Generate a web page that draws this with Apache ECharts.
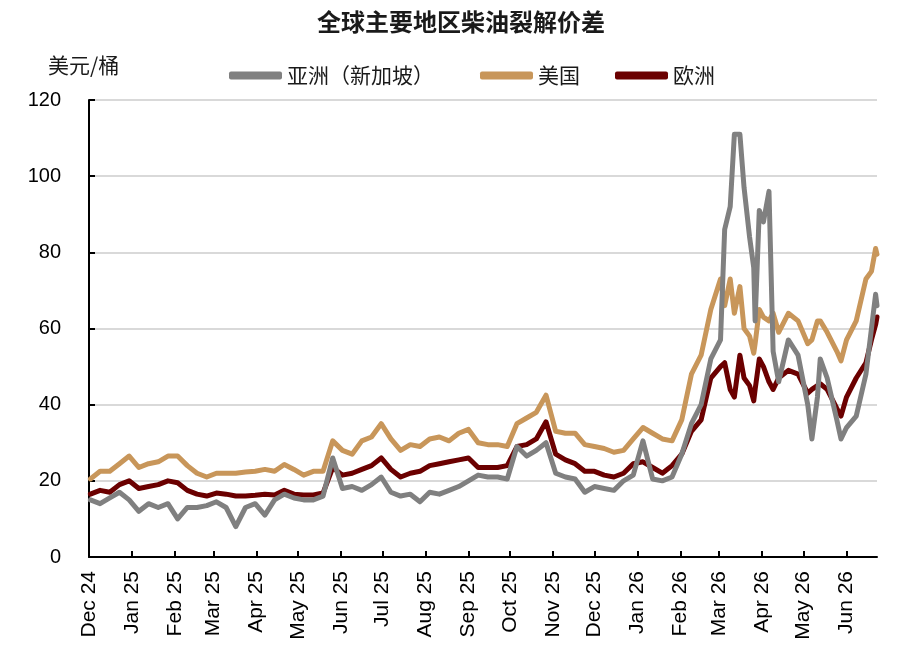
<!DOCTYPE html>
<html>
<head>
<meta charset="utf-8">
<script src="https://cdn.jsdelivr.net/npm/echarts@6/dist/echarts.min.js"></script>
<style>
  html, body { margin: 0; padding: 0; background: #fff; }
  #chart { width: 900px; height: 658px; }
</style>
</head>
<body>
<div id="chart"></div>
<script>
// 日期与三条价差序列（美元/桶）
const dates = [
  "2024-12-02","2024-12-09","2024-12-16","2024-12-23","2024-12-30",
  "2025-01-06","2025-01-13","2025-01-20","2025-01-27",
  "2025-02-03","2025-02-10","2025-02-17","2025-02-24",
  "2025-03-03","2025-03-10","2025-03-17","2025-03-24","2025-03-31",
  "2025-04-07","2025-04-14","2025-04-21","2025-04-28",
  "2025-05-05","2025-05-12","2025-05-19","2025-05-26",
  "2025-06-02","2025-06-09","2025-06-16","2025-06-23","2025-06-30",
  "2025-07-07","2025-07-14","2025-07-21","2025-07-28",
  "2025-08-04","2025-08-11","2025-08-18","2025-08-25",
  "2025-09-01","2025-09-08","2025-09-15","2025-09-22","2025-09-29",
  "2025-10-06","2025-10-13","2025-10-20","2025-10-27",
  "2025-11-03","2025-11-10","2025-11-17","2025-11-24",
  "2025-12-01","2025-12-08","2025-12-15","2025-12-22","2025-12-29",
  "2026-01-05","2026-01-12","2026-01-19","2026-01-26",
  "2026-02-02","2026-02-09","2026-02-16","2026-02-23",
  "2026-03-02","2026-03-05","2026-03-09","2026-03-12","2026-03-16","2026-03-19",
  "2026-03-23","2026-03-26","2026-03-27","2026-03-30",
  "2026-04-02","2026-04-06","2026-04-09","2026-04-13","2026-04-20","2026-04-27",
  "2026-05-04","2026-05-07","2026-05-11","2026-05-13","2026-05-18","2026-05-25","2026-05-28",
  "2026-06-01","2026-06-08","2026-06-15","2026-06-19","2026-06-22","2026-06-23"
];

const asia = [
  15, 14, 15.5, 17, 15,
  12, 14, 13, 14,
  10, 13, 13, 13.5,
  14.5, 13, 8, 13, 14,
  11, 15, 16.5, 15.5,
  15, 15, 16, 26,
  18, 18.5, 17.5, 19, 21,
  17, 16, 16.5, 14.5,
  17, 16.5, 17.5, 18.5,
  20, 21.5, 21, 21, 20.5,
  29, 26.5, 28, 30,
  22, 21, 20.5, 17,
  18.5, 18, 17.5, 20, 21.5,
  30.5, 20.5, 20, 21,
  27, 35, 40, 52,
  57, 86, 92, 111, 111, 97,
  84, 76, 62, 91,
  88, 96, 54, 46, 57, 53,
  40, 31, 42, 52, 47, 36, 31,
  34, 37, 48, 60, 69, 66
];

const usa = [
  20.5, 22.5, 22.5, 24.5, 26.5,
  23.5, 24.5, 25, 26.5,
  26.5, 24, 22, 21,
  22, 22, 22, 22.3, 22.5,
  23, 22.5, 24.3, 23,
  21.5, 22.5, 22.5, 30.5,
  28, 27, 30.5, 31.5, 35,
  31, 28, 29.5, 29,
  31, 31.5, 30.5, 32.5,
  33.5, 30, 29.5, 29.5, 29,
  35, 36.5, 38, 42.5,
  33, 32.5, 32.5, 29.5,
  29, 28.5, 27.5, 28, 31,
  34, 32.5, 31, 30.5,
  36, 48, 53, 65,
  73, 66, 73, 64, 71, 60,
  58, 53.5, 56, 65,
  63, 62, 64, 59, 64, 62,
  56, 57, 62, 62, 59, 54, 51.5,
  57, 62, 73, 75, 81, 79.5
];

const europe = [
  16.5, 17.5, 17, 19, 20,
  18, 18.5, 19, 20,
  19.5, 17.5, 16.5, 16,
  16.8, 16.5, 16, 16, 16.2,
  16.5, 16.3, 17.5, 16.5,
  16.3, 16.3, 16.8, 23.5,
  21.5, 22, 23, 24, 26,
  23, 21, 22, 22.5,
  24, 24.5, 25, 25.5,
  26, 23.5, 23.5, 23.5, 24,
  29, 29.5, 31, 35.5,
  27, 25.5, 24.5, 22.5,
  22.5, 21.5, 21, 22, 24.5,
  25, 23.5, 22, 24,
  27, 33, 36, 47,
  50, 51, 44, 42, 53, 47,
  45, 41, 44, 52,
  50, 46, 44, 47, 49, 48,
  43, 44, 45, 45.5, 44, 39, 37,
  42, 47, 51, 57, 61, 63
];

const yTicks = [0, 20, 40, 60, 80, 100, 120];
const monthNames = ["Jan","Feb","Mar","Apr","May","Jun","Jul","Aug","Sep","Oct","Nov","Dec"];

function pairs(vals) {
  return dates.map((d, i) => [d, vals[i]]);
}

const chart = echarts.init(document.getElementById("chart"), null, { renderer: "canvas" });

const axisFont = '"Liberation Sans", Arial, sans-serif';
const cjkFont = '"Noto Sans CJK SC", "Liberation Sans", sans-serif';
const legendText = { fontFamily: cjkFont, fontSize: 21, color: "#1a1a1a" };

function legendAt(name, left) {
  return {
    top: 60,
    left: left,
    itemWidth: 53,
    itemHeight: 8,
    icon: "roundRect",
    data: [name],
    textStyle: legendText
  };
}

chart.setOption({
  backgroundColor: "#fff",
  animation: false,
  title: {
    text: "全球主要地区柴油裂解价差",
    left: 312,
    top: 5,
    textStyle: { fontFamily: cjkFont, fontSize: 24, fontWeight: "bold", color: "#1a1a1a" }
  },
  graphic: [{
    type: "text",
    left: 48,
    top: 55,
    style: { text: "美元/桶", font: '21px "Noto Sans CJK SC", sans-serif', fill: "#1a1a1a" }
  }],
  legend: [
    legendAt("亚洲（新加坡）", 224),
    legendAt("美国", 475),
    legendAt("欧洲", 610)
  ],
  grid: { left: 89, right: 23, top: 100, bottom: 101, containLabel: false },
  xAxis: {
    type: "time",
    min: "2024-12-01",
    max: "2026-06-23",
    splitNumber: 19,
    minInterval: 28 * 86400000,
    maxInterval: 31 * 86400000,
    axisLine: { lineStyle: { color: "#000", width: 2 } },
    axisTick: { show: true, inside: true, length: 6, lineStyle: { color: "#000", width: 2 } },
    splitLine: { show: false },
    axisLabel: {
      rotate: 90,
      margin: 14,
      color: "#000",
      fontFamily: axisFont,
      fontSize: 21,
      showMinLabel: true,
      showMaxLabel: false,
      hideOverlap: false,
      formatter: function (value) {
        const d = new Date(value);
        return monthNames[d.getMonth()] + " " + String(d.getFullYear()).slice(2);
      }
    }
  },
  yAxis: {
    type: "value",
    min: yTicks[0],
    max: yTicks[yTicks.length - 1],
    interval: 20,
    axisLine: { show: true, lineStyle: { color: "#000", width: 2 } },
    axisTick: { show: true, inside: true, length: 6, lineStyle: { color: "#000", width: 2 } },
    splitLine: { lineStyle: { color: "#d9d9d9", width: 2 } },
    axisLabel: { color: "#000", fontFamily: axisFont, fontSize: 20, margin: 28 }
  },
  series: [
    {
      name: "亚洲（新加坡）",
      type: "line",
      data: pairs(asia),
      showSymbol: false,
      z: 4,
      itemStyle: { color: "#808080" },
      lineStyle: { color: "#808080", width: 5, join: "round", cap: "round" }
    },
    {
      name: "美国",
      type: "line",
      data: pairs(usa),
      showSymbol: false,
      z: 2,
      itemStyle: { color: "#C8965A" },
      lineStyle: { color: "#C8965A", width: 5, join: "round", cap: "round" }
    },
    {
      name: "欧洲",
      type: "line",
      data: pairs(europe),
      showSymbol: false,
      z: 3,
      itemStyle: { color: "#6B0000" },
      lineStyle: { color: "#6B0000", width: 5, join: "round", cap: "round" }
    }
  ]
});

window.addEventListener("resize", () => {
  chart.resize();
});
</script>
</body>
</html>
